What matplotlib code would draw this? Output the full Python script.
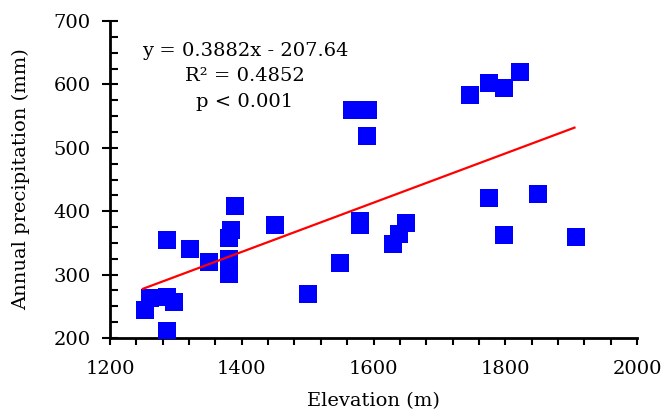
import matplotlib.pyplot as plt
from matplotlib.ticker import MultipleLocator

# data
elevation = [1253, 1260, 1286, 1297, 1286, 1286, 1321, 1350, 1381, 1381,
             1381, 1384, 1389, 1451, 1501, 1549, 1580, 1580, 1567, 1591,
             1590, 1629, 1639, 1649, 1747, 1776, 1798, 1823, 1776, 1798,
             1849, 1907]
precip = [244, 263, 265, 257, 354, 211, 340, 320, 301, 324,
          358, 370, 409, 379, 269, 318, 379, 384, 559, 560,
          518, 348, 364, 382, 583, 603, 595, 620, 421, 362,
          427, 360]

slope = 0.3882
intercept = -207.64
fit_x = [1250, 1905]

plt.rcParams['font.family'] = ['DejaVu Serif']

fig = plt.figure(figsize=(6.65, 4.13), dpi=100)
ax = fig.add_axes([0.1654, 0.1816, 0.7926, 0.7674])

ax.scatter(elevation, precip, marker='s', s=150, color='#0000ff',
           linewidths=0, zorder=3)
ax.plot(fit_x, [slope * v + intercept for v in fit_x], color='#ff0000',
        lw=1.6, zorder=4)

ax.set_xlim(1200, 2000)
ax.set_ylim(200, 700)
ax.xaxis.set_major_locator(MultipleLocator(200))
ax.xaxis.set_minor_locator(MultipleLocator(40))
ax.yaxis.set_major_locator(MultipleLocator(100))
ax.yaxis.set_minor_locator(MultipleLocator(25))

for s in ['top', 'right']:
    ax.spines[s].set_visible(False)
for s in ['left', 'bottom']:
    ax.spines[s].set_linewidth(2)

ax.tick_params(axis='x', which='both', direction='out', length=5, width=1.5,
               labelsize=14, pad=11)
ax.tick_params(axis='y', which='major', direction='inout', length=12, width=1.5,
               labelsize=14, pad=8)
ax.tick_params(axis='y', which='minor', direction='in', length=6, width=1.5)

ax.set_xlabel('Elevation (m)', fontsize=14, labelpad=10)
ax.set_ylabel('Annual precipitation (mm)', fontsize=14, labelpad=17)

ax.text(0.256, 0.826, 'y = 0.3882x - 207.64\nR\u00b2 = 0.4852\np < 0.001',
        transform=ax.transAxes, ha='center', va='center', fontsize=14,
        linespacing=1.55)

fig.savefig('out.png', dpi=100)
